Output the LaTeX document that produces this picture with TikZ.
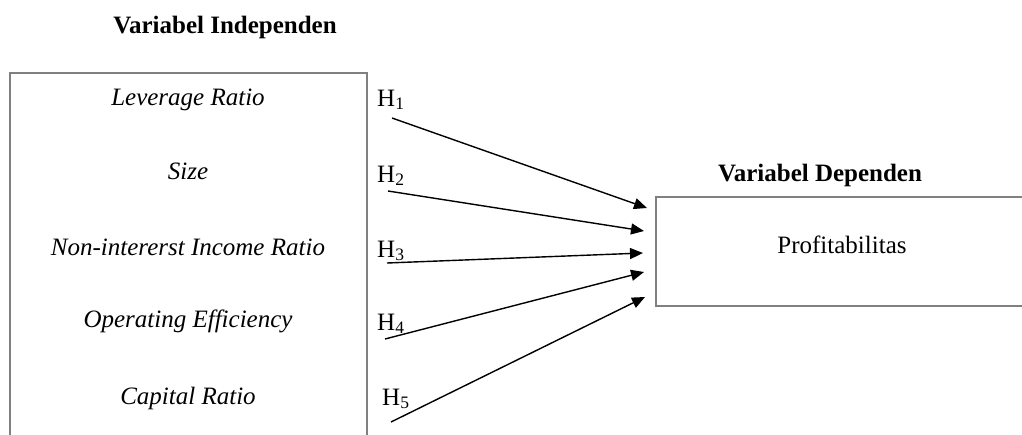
\documentclass[tikz,border=0pt]{standalone}
\usepackage{fontspec}
\setmainfont{Liberation Serif}
\usetikzlibrary{arrows.meta}
\tikzset{
  txt/.style={inner sep=0pt, anchor=base, font=\fontsize{25pt}{30pt}\selectfont},
  vartxt/.style={txt, font=\fontsize{25pt}{30pt}\selectfont\itshape},
  title/.style={txt, font=\fontsize{25pt}{30pt}\selectfont\bfseries},
  hlab/.style={inner sep=0pt, anchor=base west, font=\fontsize{25pt}{30pt}\selectfont},
  frame/.style={draw=black!50, line width=2pt},
  hyp/.style={draw=black, line width=1.4pt, -{Triangle[length=13pt,width=11pt]}}
}
\begin{document}
\begin{tikzpicture}[x=1pt,y=-1pt]
\useasboundingbox (0,0) rectangle (1022,434);
\fill[white] (0,0) rectangle (1022,434);
% boxes
\draw[frame] (10,440) -- (10,73) -- (367,73) -- (367,440);
\draw[frame] (1030,197) -- (656,197) -- (656,306) -- (1030,306);
% titles
\node[title] (tind) at (225,33) {Variabel Independen};
\node[title] (tdep) at (820,181) {Variabel Dependen};
\node[txt] (prof) at (842,253) {Profitabilitas};
% independent variables
\node[vartxt] (v1) at (188,105) {Leverage Ratio};
\node[vartxt] (v2) at (188,179) {Size};
\node[vartxt] (v3) at (188,255) {Non-intererst Income Ratio};
\node[vartxt] (v4) at (188,327) {Operating Efficiency};
\node[vartxt] (v5) at (188,404) {Capital Ratio};
% hypothesis labels
\node[hlab] (h1) at (377,106) {H\textsubscript{1}};
\node[hlab] (h2) at (377,182) {H\textsubscript{2}};
\node[hlab] (h3) at (377,257) {H\textsubscript{3}};
\node[hlab] (h4) at (377,330) {H\textsubscript{4}};
\node[hlab] (h5) at (382,405) {H\textsubscript{5}};
% arrow endpoints
\coordinate (s1) at (392,118);
\coordinate (s2) at (388,191);
\coordinate (s3) at (387,263);
\coordinate (s4) at (385,339);
\coordinate (s5) at (391,422);
\coordinate (t1) at (647,208);
\coordinate (t2) at (644,231);
\coordinate (t3) at (643,253);
\coordinate (t4) at (644,272);
\coordinate (t5) at (645,297);
\draw[hyp] (s1) -- (t1);
\draw[hyp] (s2) -- (t2);
\draw[hyp] (s3) -- (t3);
\draw[hyp] (s4) -- (t4);
\draw[hyp] (s5) -- (t5);
\end{tikzpicture}
\end{document}
